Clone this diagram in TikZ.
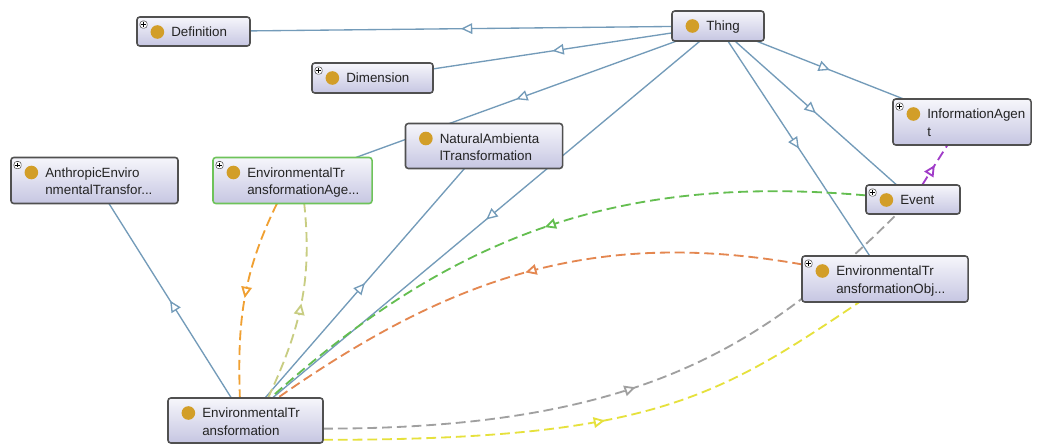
\documentclass[tikz,border=0pt]{standalone}
\usepackage{fontspec}
\setmainfont{Liberation Sans}
\usepackage{tikz}
\usetikzlibrary{arrows.meta,decorations.markings}
\usepackage{xcolor}

\definecolor{edgeblue}{RGB}{115,155,185}
\definecolor{boxline}{RGB}{80,80,80}
\definecolor{boxtop}{RGB}{246,246,251}
\definecolor{boxbot}{RGB}{198,198,226}
\definecolor{agebox}{RGB}{110,195,90}
\definecolor{dotcol}{RGB}{210,158,40}
\definecolor{txtcol}{RGB}{35,35,35}
\definecolor{dgreen}{RGB}{100,190,80}
\definecolor{dorange}{RGB}{228,135,80}
\definecolor{lorange}{RGB}{240,160,50}
\definecolor{dolive}{RGB}{200,205,130}
\definecolor{dgray}{RGB}{160,160,160}
\definecolor{dyellow}{RGB}{230,225,60}
\definecolor{dpurple}{RGB}{160,60,200}

\pgfdeclarelayer{bg}
\pgfsetlayers{bg,main}

\begin{document}
\begin{tikzpicture}[x=0.025cm, y=-0.025cm,
  midarr/.style={decoration={markings, mark=at position 0.5 with {\arrow{Triangle[length=8pt,width=7.5pt,fill=white]}}}, postaction={decorate}},
  sub/.style={edgeblue, line width=0.95pt, midarr},
  prop/.style={#1, line width=1.3pt, dash pattern=on 7pt off 3.5pt, midarr},
  cls/.style={draw=boxline, line width=1.1pt, rounded corners=2pt, outer sep=0pt,
    top color=boxtop, bottom color=boxbot,
    path picture={\fill[dotcol] ([shift={(0.51cm,-0.375cm)}]path picture bounding box.north west) circle (0.17cm);}},
  clsp/.style={cls,
    path picture={
      \fill[dotcol] ([shift={(0.51cm,-0.375cm)}]path picture bounding box.north west) circle (0.17cm);
      \draw[boxline, fill=white, line width=0.4pt] ([shift={(0.075cm,-0.1cm)}]path picture bounding box.north west) rectangle ++(0.18cm,-0.18cm);
      \draw[black, line width=0.5pt] ([shift={(0.165cm,-0.13cm)}]path picture bounding box.north west) -- ++(0,-0.12cm);
      \draw[black, line width=0.5pt] ([shift={(0.105cm,-0.19cm)}]path picture bounding box.north west) -- ++(0.12cm,0);
    }},
  txt/.style={anchor=north west, inner sep=0pt, xshift=0.85cm, yshift=-0.25cm, align=left,
    font=\fontsize{9.5}{12.4}\selectfont, text=txtcol}
]
  % Canvas
  \useasboundingbox (0,0) rectangle (1041,445);

  % Classes
  \node[clsp, minimum width=2.825cm, minimum height=0.725cm, label={[txt]north west:Definition}] (def) at (193.5,31.5) {};
  \node[clsp, minimum width=3.025cm, minimum height=0.75cm, label={[txt]north west:Dimension}] (dim) at (372.5,78) {};
  \node[cls, minimum width=2.3cm, minimum height=0.75cm, label={[txt]north west:Thing}] (thing) at (718,26) {};
  \node[clsp, minimum width=3.45cm, minimum height=1.15cm, label={[txt]north west:{InformationAgen\\t}}] (info) at (962,122) {};
  \node[clsp, minimum width=2.35cm, minimum height=0.725cm, label={[txt]north west:Event}] (event) at (913,199.5) {};
  \node[cls, minimum width=3.925cm, minimum height=1.125cm, label={[txt]north west:{NaturalAmbienta\\lTransformation}}] (natural) at (484,146) {};
  \node[clsp, minimum width=4.175cm, minimum height=1.15cm, label={[txt]north west:{AnthropicEnviro\\nmentalTransfor...}}] (anthro) at (94.5,180.5) {};
  \node[clsp, draw=agebox, minimum width=3.975cm, minimum height=1.15cm, label={[txt]north west:{EnvironmentalTr\\ansformationAge...}}] (age) at (292.5,180.5) {};
  \node[clsp, minimum width=4.15cm, minimum height=1.15cm, label={[txt]north west:{EnvironmentalTr\\ansformationObj...}}] (obj) at (885,279) {};
  \node[cls, minimum width=3.875cm, minimum height=1.125cm, label={[txt]north west:{EnvironmentalTr\\ansformation}}] (et) at (245.5,420.5) {};

  \begin{pgfonlayer}{bg}
    \fill[white] (0,0) rectangle (1041,445);

    % Subclass edges
    \draw[sub] (thing) -- (def);
    \draw[sub] (thing) -- (dim);
    \draw[sub] (thing) -- (age);
    \draw[sub] (thing) -- (info);
    \draw[sub] (thing) -- (event);
    \draw[sub] (thing) -- (obj);
    \draw[sub] (thing) -- (et);
    \draw[sub] (et) -- (natural);
    \draw[sub] (et) -- (anthro);

    % Property arcs
    \draw[prop=dgreen] (event) to[out=175, in=42] (et);
    \draw[prop=dorange] (obj) to[out=170, in=35] (et);
    \draw[prop=dgray] (et.-6) to[out=0, in=225, out looseness=1.3, in looseness=0.8] (event.222);
    \draw[prop=dyellow] (et.-14) to[out=0, in=214, out looseness=1.5, in looseness=0.8] (obj.222);
    \draw[prop=dolive] (et.45) to[out=65, in=-84] (age.-63);
    \draw[prop=lorange] (age.-124) to[out=244, in=92] (et.104);
    \draw[prop=dpurple] (event) -- (info);
  \end{pgfonlayer}
\end{tikzpicture}
\end{document}
